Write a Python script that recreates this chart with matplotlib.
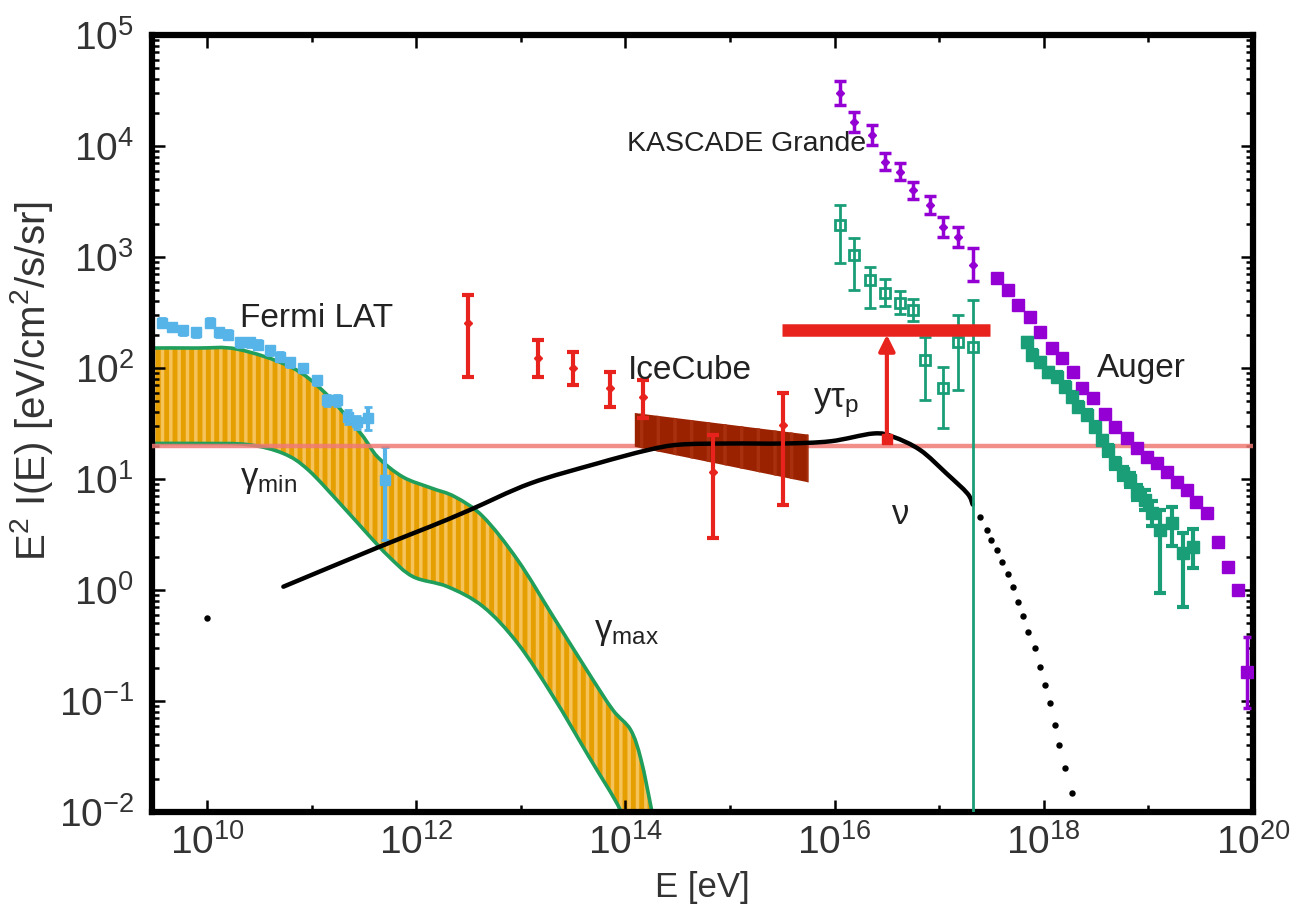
import numpy as np
import matplotlib.pyplot as plt
from matplotlib.path import Path
from matplotlib.patches import PathPatch
from matplotlib.ticker import FixedLocator, NullFormatter

plt.rcParams['font.family'] = ['Liberation Sans', 'DejaVu Sans']
plt.rcParams['mathtext.fontset'] = 'custom'
plt.rcParams['mathtext.rm'] = 'Liberation Sans'
plt.rcParams['mathtext.it'] = 'Liberation Sans:italic'
plt.rcParams['hatch.linewidth'] = 2.5

# all energies / fluxes stored as log10 values
# gamma-ray band between gamma_min and gamma_max
band_hi_logE = [9.455, 9.90, 10.29, 10.80, 11.13, 11.47, 11.63, 11.87, 12.14, 12.37, 12.64,
                12.97, 13.31, 13.65, 13.88, 14.05, 14.15, 14.25, 14.29]
band_hi_logY = [2.18, 2.18, 2.17, 2.01, 1.775, 1.41, 1.20, 1.02, 0.92, 0.84, 0.66,
                0.27, -0.24, -0.75, -1.08, -1.26, -1.53, -1.98, -2.2]
band_lo_logE = [9.455, 9.95, 10.39, 10.73, 10.97, 11.30, 11.53, 11.74, 11.97, 12.30, 12.64,
                12.97, 13.31, 13.65, 13.95, 13.99]
band_lo_logY = [1.32, 1.32, 1.31, 1.23, 1.08, 0.75, 0.51, 0.30, 0.12, 0.03, -0.15,
                -0.48, -0.96, -1.50, -1.98, -2.2]

# Fermi LAT
fermi_logE = [9.57, 9.67, 9.77, 9.89, 10.03, 10.11, 10.20, 10.32, 10.41, 10.49, 10.60,
              10.70, 10.79, 10.92, 11.05, 11.15, 11.24, 11.35, 11.43, 11.54, 11.70]
fermi_logY = [2.41, 2.37, 2.34, 2.32, 2.41, 2.32, 2.30, 2.23, 2.23, 2.21, 2.16,
              2.10, 2.05, 2.00, 1.89, 1.71, 1.71, 1.56, 1.51, 1.55, 0.99]
fermi_logLo = [2.37, 2.33, 2.30, 2.28, 2.37, 2.28, 2.26, 2.19, 2.19, 2.17, 2.12,
               2.06, 2.01, 1.96, 1.85, 1.66, 1.66, 1.50, 1.45, 1.44, 0.45]
fermi_logHi = [2.45, 2.41, 2.38, 2.36, 2.45, 2.36, 2.34, 2.27, 2.27, 2.25, 2.20,
               2.14, 2.09, 2.04, 1.93, 1.76, 1.76, 1.62, 1.57, 1.65, 1.29]

# IceCube points
ice_logE = [12.50, 13.16, 13.50, 13.85, 14.17, 14.84, 15.51]
ice_logY = [2.41, 2.09, 2.00, 1.82, 1.74, 1.06, 1.49]
ice_logLo = [1.92, 1.92, 1.85, 1.65, 1.55, 0.47, 0.77]
ice_logHi = [2.66, 2.25, 2.14, 1.96, 1.89, 1.40, 1.775]

# IceCube power-law fit band
ice_band_logE = [14.09, 15.75]
ice_band_hi = [1.595, 1.40]
ice_band_lo = [1.29, 0.97]

# neutrino model curve (solid part, then sampled dots)
nu_logE = [10.73, 11.65, 12.13, 12.51, 13.09, 13.73, 14.21, 14.52, 15.00, 15.51,
           15.96, 16.37, 16.56, 16.82, 17.07, 17.27, 17.32]
nu_logY = [0.03, 0.39, 0.57, 0.72, 0.96, 1.14, 1.26, 1.31, 1.32, 1.32,
           1.34, 1.41, 1.38, 1.26, 1.05, 0.87, 0.77]
nu_dot_logE = [17.39, 17.46, 17.50, 17.55, 17.60, 17.66, 17.71, 17.75, 17.80, 17.85,
               17.92, 17.96, 18.01, 18.06, 18.11, 18.15, 18.20, 18.27]
nu_dot_logY = [0.66, 0.54, 0.45, 0.36, 0.25, 0.14, 0.03, -0.11, -0.23, -0.38,
               -0.52, -0.69, -0.86, -1.02, -1.22, -1.40, -1.60, -1.83]
lone_dot = (10.0, -0.25)

# KASCADE-Grande (all particle, purple)
kg_logE = [16.05, 16.19, 16.36, 16.48, 16.63, 16.75, 16.91, 17.04, 17.18, 17.32]
kg_logY = [4.48, 4.22, 4.10, 3.86, 3.77, 3.60, 3.47, 3.27, 3.18, 2.93]
kg_err = [0.11, 0.09, 0.09, 0.08, 0.08, 0.08, 0.08, 0.09, 0.09, 0.15]

# KASCADE-Grande (green, open squares)
kgg_logE = [16.05, 16.19, 16.34, 16.48, 16.63, 16.75, 16.86, 17.04, 17.18, 17.32]
kgg_logY = [3.29, 3.02, 2.79, 2.68, 2.59, 2.52, 2.07, 1.82, 2.23, 2.19]
kgg_logLo = [2.95, 2.70, 2.54, 2.56, 2.49, 2.42, 1.71, 1.46, 1.80, -3.0]
kgg_logHi = [3.47, 3.17, 2.91, 2.80, 2.69, 2.62, 2.28, 2.01, 2.48, 2.61]

# Auger (purple squares)
aug_logE = [17.55, 17.66, 17.75, 17.87, 17.96, 18.08, 18.17, 18.28, 18.37, 18.47,
            18.59, 18.68, 18.80, 18.89, 18.99, 19.08, 19.18, 19.27, 19.37, 19.46,
            19.56, 19.67, 19.76, 19.86, 19.94]
aug_logY = [2.81, 2.70, 2.57, 2.46, 2.32, 2.18, 2.09, 1.96, 1.82, 1.73,
            1.59, 1.47, 1.37, 1.28, 1.20, 1.14, 1.06, 0.97, 0.90, 0.79,
            0.69, 0.43, 0.21, 0.00, -0.74]
aug_err = [0.02] * 24 + [0.32]

# Auger (green)
augg_logE = [17.84, 17.89, 17.96, 18.04, 18.13, 18.20, 18.27, 18.33, 18.41, 18.49,
             18.56, 18.61, 18.68, 18.76, 18.82, 18.89, 18.97, 19.03, 19.11, 19.23,
             19.33, 19.43]
augg_logY = [2.23, 2.12, 2.05, 1.96, 1.92, 1.83, 1.74, 1.65, 1.58, 1.47,
             1.35, 1.26, 1.14, 1.05, 0.99, 0.88, 0.81, 0.69, 0.54, 0.60,
             0.33, 0.39]
augg_logLo = [2.19, 2.08, 2.01, 1.92, 1.88, 1.79, 1.70, 1.61, 1.54, 1.43,
              1.31, 1.21, 1.09, 0.99, 0.93, 0.81, 0.72, 0.58, -0.03, 0.40,
              -0.15, 0.20]
augg_logHi = [2.27, 2.16, 2.09, 2.00, 1.96, 1.87, 1.78, 1.69, 1.62, 1.51,
              1.39, 1.31, 1.19, 1.11, 1.05, 0.95, 0.90, 0.80, 0.72, 0.75,
              0.51, 0.55]

# y tau_p bound: flat bar and arrow
bar_logE = [15.50, 17.49]
bar_logY = 2.34
arrow_logE = 16.50
arrow_logY = [1.36, 2.30]

flat_level = 20.0

RED = '#e8231d'
GREEN = '#1a9e78'
PURPLE = '#9400d3'
BLUE = '#56b4e9'
EDGE = '#1f9e5c'

p = lambda v: 10 ** np.asarray(v, dtype=float)


def smooth(lx, ly):
    """Catmull-Rom curve through the nodes (log space) as cubic Bezier segments."""
    P = np.column_stack([lx, ly])
    n = len(P)
    verts = [P[0]]
    for i in range(n - 1):
        a = P[i - 1] if i > 0 else P[i]
        d = P[i + 2] if i + 2 < n else P[i + 1]
        verts += [P[i] + (P[i + 1] - a) / 6, P[i + 1] - (d - P[i]) / 6, P[i + 1]]
    return np.array(verts)


def curve_path(lx, ly):
    v = smooth(lx, ly)
    codes = [Path.MOVETO] + [Path.CURVE4] * (len(v) - 1)
    return Path(10 ** v, codes)


fig = plt.figure(figsize=(12.98, 9.19), dpi=100)
ax = fig.add_axes([0.1171, 0.1164, 0.8482, 0.8455])
ax.set_xscale('log')
ax.set_yscale('log')

# orange band with light vertical stripes
up = smooth(band_hi_logE, band_hi_logY)
lo = smooth(band_lo_logE[::-1], band_lo_logY[::-1])
band_verts = np.vstack([up, lo, up[:1]])
band_codes = ([Path.MOVETO] + [Path.CURVE4] * (len(up) - 1) +
              [Path.LINETO] + [Path.CURVE4] * (len(lo) - 1) + [Path.CLOSEPOLY])
ax.add_patch(PathPatch(Path(10 ** band_verts, band_codes), facecolor='#e69f00',
                       edgecolor='#f5c35a', hatch='||', linewidth=0, zorder=1))
ax.add_patch(PathPatch(curve_path(band_hi_logE, band_hi_logY), fill=False,
                       edgecolor=EDGE, lw=2.6, zorder=2))
ax.add_patch(PathPatch(curve_path(band_lo_logE, band_lo_logY), fill=False,
                       edgecolor=EDGE, lw=2.6, zorder=2))

# Fermi LAT
fy = p(fermi_logY)
ax.errorbar(p(fermi_logE), fy, yerr=[fy - p(fermi_logLo), p(fermi_logHi) - fy],
            fmt='s', ms=7, color=BLUE, elinewidth=3, capsize=3, capthick=2, zorder=3)

# flat reference level
ax.axhline(flat_level, color='#f07a74', lw=3.2, alpha=0.85, zorder=4)

# IceCube fit band
ax.fill_between(p(ice_band_logE), p(ice_band_lo), p(ice_band_hi), facecolor='#9b2200',
                edgecolor='#a8300f', hatch='|', linewidth=0, zorder=4)

# IceCube points
iy = p(ice_logY)
ax.errorbar(p(ice_logE), iy, yerr=[iy - p(ice_logLo), p(ice_logHi) - iy],
            fmt='D', ms=4, color=RED, elinewidth=3, capsize=4, capthick=3, zorder=6)

# neutrino curve
ax.add_patch(PathPatch(curve_path(nu_logE, nu_logY), fill=False, edgecolor='black',
                       lw=3.2, capstyle='round', zorder=5))
ax.plot(p(nu_dot_logE), p(nu_dot_logY), 'o', color='black', ms=3.6, zorder=5)
ax.plot(10 ** lone_dot[0], 10 ** lone_dot[1], 'o', color='black', ms=3.6, zorder=5)

# KASCADE-Grande
ky = p(kg_logY)
ke = np.asarray(kg_err)
ax.errorbar(p(kg_logE), ky, yerr=[ky - ky / 10 ** ke, ky * 10 ** ke - ky],
            fmt='D', ms=4.5, color=PURPLE, elinewidth=2.5, capsize=4, capthick=2.5, zorder=6)
gy = p(kgg_logY)
ax.errorbar(p(kgg_logE), gy, yerr=[gy - p(kgg_logLo), p(kgg_logHi) - gy],
            fmt='s', ms=7, mfc='none', mec=GREEN, mew=2, color=GREEN,
            elinewidth=2, capsize=4, capthick=2, zorder=6)

# Auger
ay = p(aug_logY)
ae = np.asarray(aug_err)
ax.errorbar(p(aug_logE), ay, yerr=[ay - ay / 10 ** ae, ay * 10 ** ae - ay],
            fmt='s', ms=8, color=PURPLE, elinewidth=2.5, capsize=3, capthick=2.5, zorder=6)
agy = p(augg_logY)
ax.errorbar(p(augg_logE), agy, yerr=[agy - p(augg_logLo), p(augg_logHi) - agy],
            fmt='s', ms=8, color=GREEN, elinewidth=3, capsize=4, capthick=3, zorder=6)

# y tau_p bound
ax.plot(p(bar_logE), [10 ** bar_logY] * 2, color=RED, lw=9, solid_capstyle='butt', zorder=7)
ax.annotate('', xy=(10 ** arrow_logE, 10 ** arrow_logY[1]),
            xytext=(10 ** arrow_logE, 10 ** arrow_logY[0]),
            arrowprops=dict(arrowstyle='-|>', color=RED, lw=3, mutation_scale=24,
                            shrinkA=0, shrinkB=0), zorder=7)
ax.plot(10 ** arrow_logE, 10 ** arrow_logY[0], 's', color=RED, ms=7, zorder=7)

# labels
tc = '#222222'
ax.text(10 ** 10.32, 10 ** 2.45, 'Fermi LAT', fontsize=24, color=tc, va='center', zorder=8)
ax.text(10 ** 14.02, 10 ** 1.98, 'IceCube', fontsize=24, color=tc, va='center', zorder=8)
ax.text(10 ** 14.02, 10 ** 4.02, 'KASCADE Grande', fontsize=20.5, color=tc, va='center', zorder=5)
ax.text(10 ** 18.51, 10 ** 2.0, 'Auger', fontsize=24, color=tc, va='center', zorder=8)
ax.text(10 ** 10.32, 10 ** 1.0, r'$\mathregular{γ_{min}}$', fontsize=25, color=tc, va='center', zorder=8)
ax.text(10 ** 13.70, 10 ** -0.37, r'$\mathregular{γ_{max}}$', fontsize=25, color=tc, va='center', zorder=8)
ax.text(10 ** 15.79, 10 ** 1.68, r'$\mathregular{yτ_p}$', fontsize=25, color=tc, va='center', zorder=8)
ax.text(10 ** 16.55, 10 ** 0.68, 'ν', fontsize=25, color=tc, va='center', zorder=8)

ax.set_xlim(10 ** 9.474, 1e20)
ax.set_ylim(1e-2, 1e5)

ax.xaxis.set_major_locator(FixedLocator([10.0 ** k for k in range(10, 21, 2)]))
ax.xaxis.set_minor_locator(FixedLocator([10.0 ** k for k in range(11, 20, 2)]))
ax.xaxis.set_minor_formatter(NullFormatter())
ax.yaxis.set_major_locator(FixedLocator([10.0 ** k for k in range(-2, 6)]))
ax.yaxis.set_minor_locator(FixedLocator([m * 10.0 ** k for k in range(-2, 5) for m in range(2, 10)]))
ax.yaxis.set_minor_formatter(NullFormatter())

ax.tick_params(which='both', direction='in', top=True, right=True, width=1.8,
               colors='black', labelcolor='#333333', labelsize=28)
ax.tick_params(which='major', length=9)
ax.tick_params(which='minor', length=5)
ax.tick_params(axis='x', pad=9)
ax.tick_params(axis='y', pad=13)

for s in ax.spines.values():
    s.set_linewidth(4.5)

ax.set_xlabel('E [eV]', fontsize=25, color='#333333', labelpad=6)
ax.set_ylabel(r'E$^2$ I(E) [eV/cm$^2$/s/sr]', fontsize=29, color='#333333')
ax.yaxis.set_label_coords(-0.088, 0.555)

fig.savefig('out.png', dpi=100)
